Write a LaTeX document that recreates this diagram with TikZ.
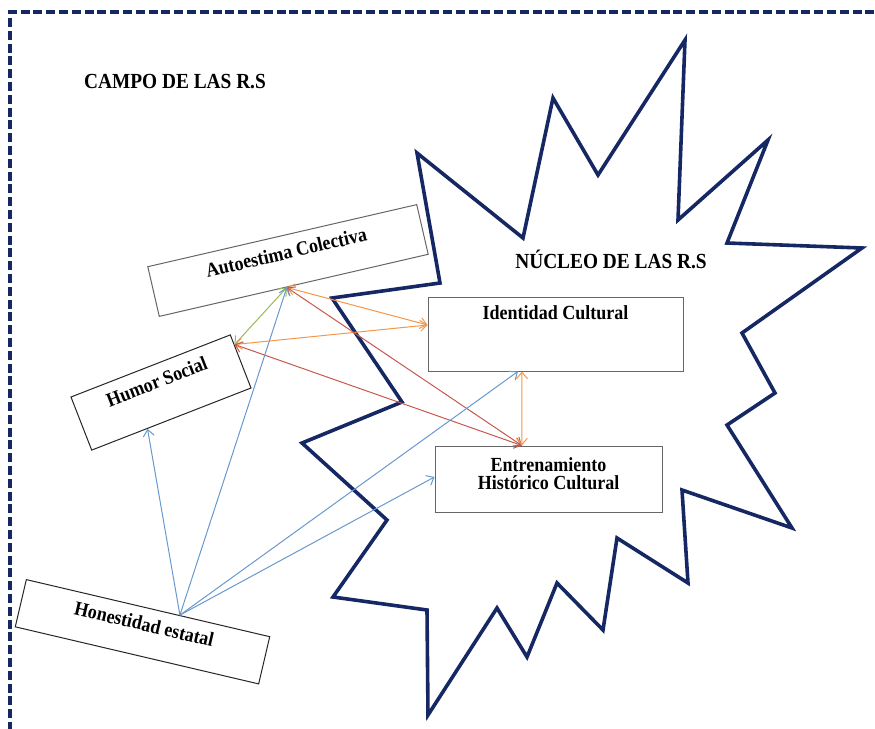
\documentclass[tikz,border=0pt]{standalone}
\usepackage{fontspec}
\setmainfont{Liberation Serif}
\newfontfamily\lblfont[FakeStretch=0.9]{Liberation Serif}
\usetikzlibrary{arrows.meta,calc}

\definecolor{navy}{RGB}{22,40,100}
\definecolor{linkblue}{RGB}{105,152,206}
\definecolor{linkorange}{RGB}{245,150,72}
\definecolor{linkred}{RGB}{200,88,78}
\definecolor{linkgreen}{RGB}{150,186,92}

\tikzset{
  frameline/.style={draw=navy, line width=3.2pt, dash pattern=on 9pt off 3.8pt},
  starline/.style={draw=navy, line width=3.6pt, line join=miter, miter limit=20},
  box/.style={draw=black!60, fill=white, line width=1pt, inner sep=0pt,
    font=\lblfont\bfseries\fontsize{20}{20.7}\selectfont},
  title/.style={font=\lblfont\bfseries\fontsize{21.5}{22}\selectfont, inner sep=0pt},
  barb/.tip={Straight Barb[length=6.5pt,width=11pt]},
  link/.style={line width=1pt, -barb},
  twoway/.style={line width=1pt, barb-barb},
}

\begin{document}
\begin{tikzpicture}[x=1pt,y=-1pt]
\useasboundingbox (0,0) rectangle (875,728);

% dashed outer frame (runs off the page on the right and at the bottom)
\begin{scope}
  \clip (0,0) rectangle (875,728);
  \draw[frameline] (900,12) -- (10,12) -- (10,760);
\end{scope}

% the jagged outline of the core
\draw[starline]
  (685,40) -- (678,220) -- (768,140) -- (727,243) -- (862,248)
  -- (742,333) -- (775,393) -- (727,425) -- (792,528) -- (682,490)
  -- (688,583) -- (617,538) -- (603,630) -- (557,583) -- (527,657)
  -- (497,608) -- (428,715) -- (427,610) -- (333,597) -- (387,520)
  -- (302,443) -- (402,402) -- (332,298) -- (440,283) -- (417,153)
  -- (523,238) -- (553,98) -- (598,175) -- cycle;

% headings
\node[title, anchor=base] (campo) at (175,88) {CAMPO DE LAS R.S};
\node[title, anchor=base] (nucleo) at (611,268) {NÚCLEO DE LAS R.S};

% boxes
\node[box, rotate=13, minimum width=276pt, minimum height=51pt,
      text height=13pt, text depth=16pt] (auto) at (288,260.5) {Autoestima Colectiva};
\node[box, draw=black!85, rotate=21.3, minimum width=171pt, minimum height=57pt,
      text height=13pt, text depth=23pt] (humor) at (161,392.5) {Humor Social};
\node[box, draw=black!85, rotate=-13.2, minimum width=250pt, minimum height=48.5pt,
      text height=13pt, text depth=15pt] (hon) at (142.5,631.75) {Honestidad estatal};
\node[box, minimum width=255pt, minimum height=74pt,
      text height=13pt, text depth=43pt] (ident) at (555.5,334) {Identidad Cultural};
\node[box, minimum width=227pt, minimum height=66pt,
      text height=32pt, text depth=12pt]
      (ent) at (548.5,479) {\shortstack{Entrenamiento\\Histórico Cultural}};

% connector end points on the box borders
\coordinate (aS) at ($(auto.south west)!0.474!(auto.south east)$);
\coordinate (hE) at ($(humor.north east)!0.19!(humor.south east)$);
\coordinate (hS) at ($(humor.south west)!0.35!(humor.south east)$);
\coordinate (oN) at ($(hon.north west)!0.63!(hon.north east)$);
\coordinate (iW) at ($(ident.north west)!0.38!(ident.south west)$);
\coordinate (iSb) at ($(ident.south west)!0.353!(ident.south east)$);
\coordinate (iSo) at ($(ident.south west)!0.369!(ident.south east)$);
\coordinate (eN) at ($(ent.north west)!0.383!(ent.north east)$);
\coordinate (eW) at ($(ent.north west)!0.47!(ent.south west)$);

% relations
\draw[twoway, linkgreen] (aS) -- (hE);
\draw[twoway, linkorange] (aS) -- (iW);
\draw[twoway, linkorange] (hE) -- (iW);
\draw[twoway, linkred] (aS) -- (eN);
\draw[twoway, linkred] (hE) -- (eN);
\draw[twoway, linkorange] (iSo) -- (eN);
\draw[link, linkblue] (oN) -- (hS);
\draw[link, linkblue] (oN) -- (aS);
\draw[link, linkblue] (oN) -- (iSb);
\draw[link, linkblue] (oN) -- (eW);
\end{tikzpicture}
\end{document}
